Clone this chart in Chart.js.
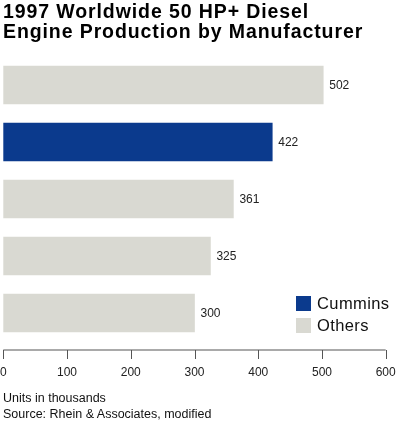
<!DOCTYPE html>
<html>
<head>
<meta charset="utf-8">
<script src="https://cdn.jsdelivr.net/npm/chart.js@4"></script>
<style>
  body { margin: 0; background: #fff; font-family: "Liberation Sans", Arial, sans-serif; }
  #wrap { position: relative; width: 396px; height: 421px; overflow: hidden; }
  #chart { position: absolute; left: 0; top: 0; }
  .title { position: absolute; left: 3px; top: 1px; font-size: 19.5px; line-height: 20px; font-weight: bold; color: #000; letter-spacing: 0.9px; white-space: nowrap; }
  .legend { position: absolute; left: 296px; top: 295px; font-size: 16.5px; color: #111; letter-spacing: 0.4px; }
  .legend div { height: 22px; line-height: 16px; position: relative; padding-left: 21px; white-space: nowrap; }
  .legend span { position: absolute; left: 0; top: 1px; width: 15px; height: 15px; }
  .note { position: absolute; left: 3px; font-size: 12.5px; color: #111; }
</style>
</head>
<body>
<div id="wrap">
  <canvas id="chart" width="396" height="421"></canvas>
  <div class="title">1997 Worldwide 50 HP+ Diesel<br>Engine Production by Manufacturer</div>
  <div class="legend">
    <div><span style="background:#0b3a8d"></span>Cummins</div>
    <div><span style="background:#d9d9d2"></span>Others</div>
  </div>
  <div class="note" style="top:391px">Units in thousands</div>
  <div class="note" style="top:407px">Source: Rhein &amp; Associates, modified</div>
</div>
<script>
// manufacturers (not labelled on the chart), top to bottom
const manufacturers = ['Other A', 'Cummins', 'Other B', 'Other C', 'Other D'];
const units = [502, 422, 361, 325, 300];
const xTicks = [0, 100, 200, 300, 400, 500, 600];

const blue = '#0b3a8d';
const gray = '#d9d9d2';

// bottom axis: line, downward tick marks and tick labels, a bit below the bars
const axisLine = {
  id: 'axisLine',
  afterDraw(chart) {
    const ctx = chart.ctx;
    const x = chart.scales.x;
    const y = chart.chartArea.bottom + 8.5;
    ctx.save();
    ctx.strokeStyle = '#555';
    ctx.lineWidth = 1;
    ctx.beginPath();
    ctx.moveTo(x.getPixelForValue(xTicks[0]), y);
    ctx.lineTo(x.getPixelForValue(xTicks[xTicks.length - 1]), y);
    xTicks.forEach(t => {
      const px = Math.round(x.getPixelForValue(t)) + 0.5;
      ctx.moveTo(px, y);
      ctx.lineTo(px, y + 9);
    });
    ctx.stroke();

    ctx.font = '12px "Liberation Sans", Arial, sans-serif';
    ctx.fillStyle = '#222';
    ctx.textAlign = 'center';
    ctx.textBaseline = 'middle';
    xTicks.forEach(t => {
      ctx.fillText(String(t), x.getPixelForValue(t), y + 23);
    });
    ctx.restore();
  }
};

// value labels at the end of each bar
const barValues = {
  id: 'barValues',
  afterDatasetsDraw(chart) {
    const ctx = chart.ctx;
    ctx.save();
    ctx.font = '12px "Liberation Sans", Arial, sans-serif';
    ctx.fillStyle = '#222';
    ctx.textBaseline = 'middle';
    chart.getDatasetMeta(0).data.forEach((bar, i) => {
      ctx.fillText(units[i], bar.x + 6, bar.y + 1);
    });
    ctx.restore();
  }
};

new Chart(document.getElementById('chart'), {
  type: 'bar',
  data: {
    labels: manufacturers,
    datasets: [{
      data: units,
      backgroundColor: manufacturers.map(m => m === 'Cummins' ? blue : gray),
      borderWidth: 0,
      barThickness: 38
    }]
  },
  options: {
    indexAxis: 'y',
    responsive: false,
    animation: false,
    devicePixelRatio: 1,
    layout: { padding: { top: 56.5, left: 3.3, right: 10.3, bottom: 79.5 } },
    plugins: {
      legend: { display: false },
      title: { display: false },
      tooltip: { enabled: false }
    },
    scales: {
      y: { display: false },
      x: { display: false, min: 0, max: 600 }
    }
  },
  plugins: [axisLine, barValues]
});
</script>
</body>
</html>
